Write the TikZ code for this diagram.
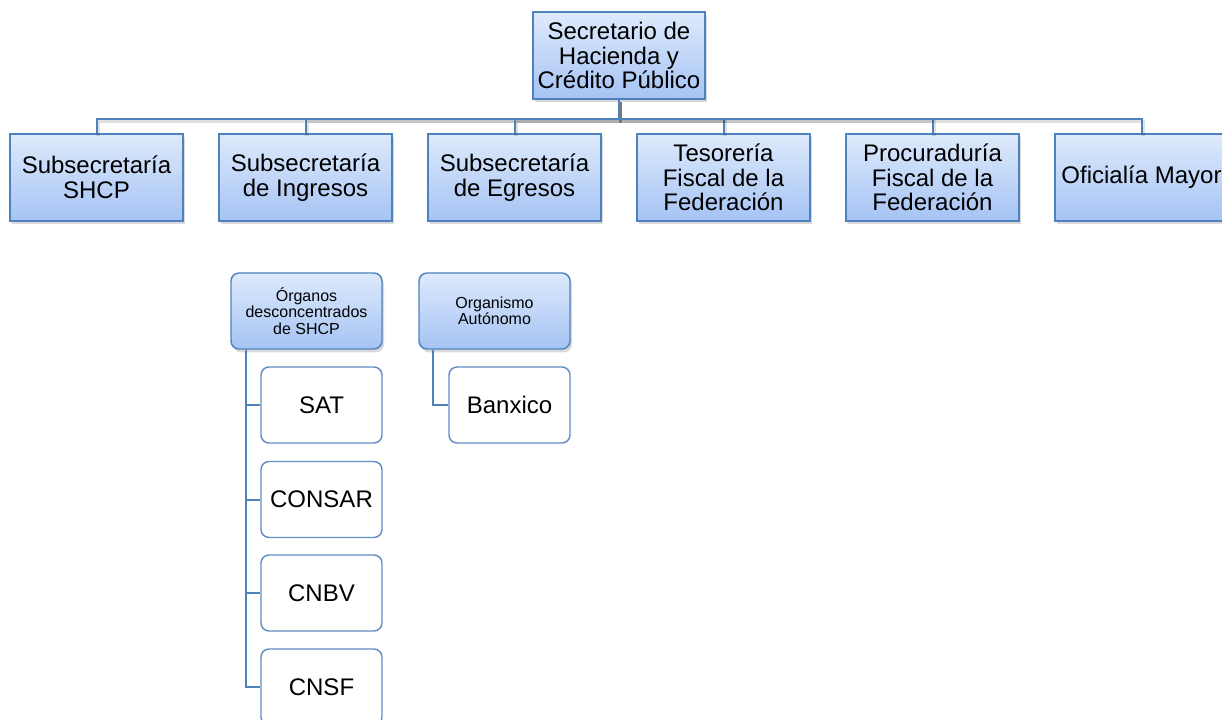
\documentclass[tikz,border=0pt]{standalone}
\usepackage{fontspec}
\setmainfont{Liberation Sans}
\usetikzlibrary{shadows,calc}
\definecolor{bdr}{HTML}{4F81BD}
\definecolor{gtop}{HTML}{DEEAFC}
\definecolor{gbot}{HTML}{A5C3F4}
\tikzset{
  lvbox/.style={draw=bdr, line width=1.1pt, top color=gtop, bottom color=gbot,
    align=center, inner sep=0pt, font=\fontsize{18}{18.5}\selectfont,
    drop shadow={opacity=0.3, shadow xshift=1.5pt, shadow yshift=-2.5pt}},
  topbox/.style={lvbox, minimum width=129pt, minimum height=65.25pt},
  secbox/.style={lvbox, minimum width=129.75pt, minimum height=65.25pt},
  grpbox/.style={lvbox, rounded corners=6pt, minimum width=113.25pt, minimum height=57pt,
    font=\fontsize{12}{12.3}\selectfont},
  childbox/.style={draw=bdr!90, line width=1.1pt, fill=white, rounded corners=6pt,
    minimum width=90.75pt, minimum height=57pt, inner sep=0pt,
    font=\fontsize{18}{18.5}\selectfont},
  conn/.style={draw=bdr, line width=1.5pt,
    preaction={draw=black, opacity=0.12, line width=2.5pt, transform canvas={xshift=1pt,yshift=-2pt}}},
  subconn/.style={draw=bdr, line width=1.5pt}
}
\begin{document}
\begin{tikzpicture}[x=0.75pt, y=-0.75pt]
\useasboundingbox (0,0) rectangle (1222,720);
\node[topbox] (top) at (619,55.5) {Secretario de\\Hacienda y\\Crédito Público};
\node[secbox] (s1) at (96.5,177.5) {Subsecretaría\\SHCP};
\node[secbox] (s2) at (305.5,177.5) {Subsecretaría\\de Ingresos};
\node[secbox] (s3) at (514.5,177.5) {Subsecretaría\\de Egresos};
\node[secbox] (s4) at (723.5,177.5) {Tesorería\\Fiscal de la\\Federación};
\node[secbox] (s5) at (932.5,177.5) {Procuraduría\\Fiscal de la\\Federación};
\node[secbox] (s6) at (1141.5,177.5) {Oficialía Mayor};
\foreach \s in {s1,s2,s3,s4,s5,s6}{
  \draw[conn] (top.south) -- ++(0,19) -| (\s.north);
}
\node[grpbox] (org) at (306.5,311) {Órganos\\desconcentrados\\de SHCP};
\node[grpbox] (aut) at (494.5,311) {Organismo\\Autónomo};
\node[childbox] (sat) at (321.5,405) {SAT};
\node[childbox] (consar) at (321.5,499.5) {CONSAR};
\node[childbox] (cnbv) at (321.5,593) {CNBV};
\node[childbox] (cnsf) at (321.5,687) {CNSF};
\node[childbox] (banxico) at (509.5,405) {Banxico};
\foreach \c in {sat,consar,cnbv,cnsf}{
  \draw[subconn] ($(org.south west)+(16,0)$) |- (\c.west);
}
\draw[subconn] ($(aut.south west)+(15,0)$) |- (banxico.west);
\end{tikzpicture}
\end{document}
